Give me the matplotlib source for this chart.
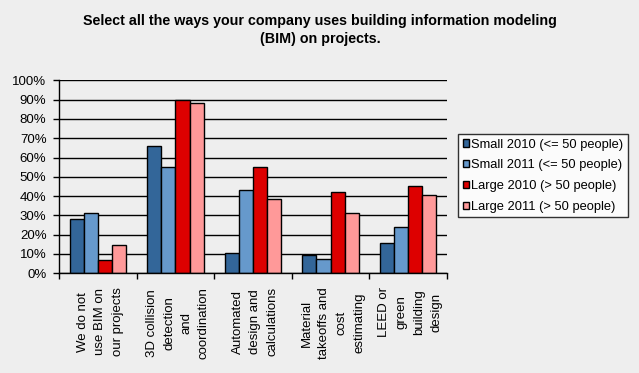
import numpy as np
import matplotlib
matplotlib.use("Agg")
import matplotlib.pyplot as plt
from matplotlib.ticker import MultipleLocator, PercentFormatter

plt.rcParams["font.family"] = ["Liberation Sans", "DejaVu Sans"]

CATEGORIES = [
    "We do not\nuse BIM on\nour projects",
    "3D collision\ndetection\nand\ncoordination",
    "Automated\ndesign and\ncalculations",
    "Material\ntakeoffs and\ncost\nestimating",
    "LEED or\ngreen\nbuilding\ndesign",
]
SERIES = [
    "Small 2010 (<= 50 people)",
    "Small 2011 (<= 50 people)",
    "Large 2010 (> 50 people)",
    "Large 2011 (> 50 people)",
]
small_2010 = [28, 66, 10.5, 9.5, 15.5]
small_2011 = [31, 55, 43, 7.3, 24]
large_2010 = [6.7, 90, 55, 42, 45]
large_2011 = [14.5, 88, 38.5, 31, 40.5]
COLORS = ["#336699", "#6699CC", "#DD0000", "#FF9999"]

fig = plt.figure(figsize=(6.39, 3.73), dpi=100, facecolor="#EEEEEE")
ax = fig.add_axes([59 / 639, 1 - 273.3 / 373, 388 / 639, 193 / 373])
ax.set_facecolor("#EEEEEE")

x = np.arange(len(CATEGORIES))
w = 0.182
for i, (vals, name, col) in enumerate(zip([small_2010, small_2011, large_2010, large_2011], SERIES, COLORS)):
    ax.bar(x + (i - 1.5) * w, vals, width=w, color=col, edgecolor="black",
           linewidth=1, label=name, zorder=3)

ax.set_xlim(-0.5, len(CATEGORIES) - 0.5)
ax.set_ylim(0, 100)
ax.yaxis.set_major_locator(MultipleLocator(10))
ax.yaxis.set_major_formatter(PercentFormatter(decimals=0))
ax.grid(axis="y", color="black", linewidth=1, zorder=0)

ax.set_xticks(np.arange(len(CATEGORIES) + 1) - 0.5)
ax.set_xticklabels([])
ax.set_xticks(x + 0.03, minor=True)
ax.set_xticklabels(CATEGORIES, minor=True, rotation=90, fontsize=9.5,
                   multialignment="center", linespacing=1.6)
ax.tick_params(axis="x", which="minor", length=0, pad=10)
ax.tick_params(axis="x", which="major", length=4, width=1, direction="out")
ax.tick_params(axis="y", length=4, width=1, labelsize=9.5, pad=5)

for s in ["top", "right"]:
    ax.spines[s].set_visible(False)
for s in ["left", "bottom"]:
    ax.spines[s].set_linewidth(1)
    ax.spines[s].set_zorder(4)

fig.text(320 / 639, 1 - 30 / 373,
         "Select all the ways your company uses building information modeling\n(BIM) on projects.",
         ha="center", va="center", fontsize=10.3, fontweight="bold", linespacing=1.45)

leg = fig.legend(loc="upper left", bbox_to_anchor=(458 / 639, 1 - 134 / 373),
                 fontsize=9.3, frameon=True, fancybox=False, edgecolor="black",
                 facecolor="white", handlelength=0.5, handleheight=0.5,
                 handletextpad=0.15, borderpad=0.35, labelspacing=0.68,
                 borderaxespad=0)
leg.get_frame().set_linewidth(1)

fig.savefig("out.png", dpi=100, facecolor=fig.get_facecolor())
